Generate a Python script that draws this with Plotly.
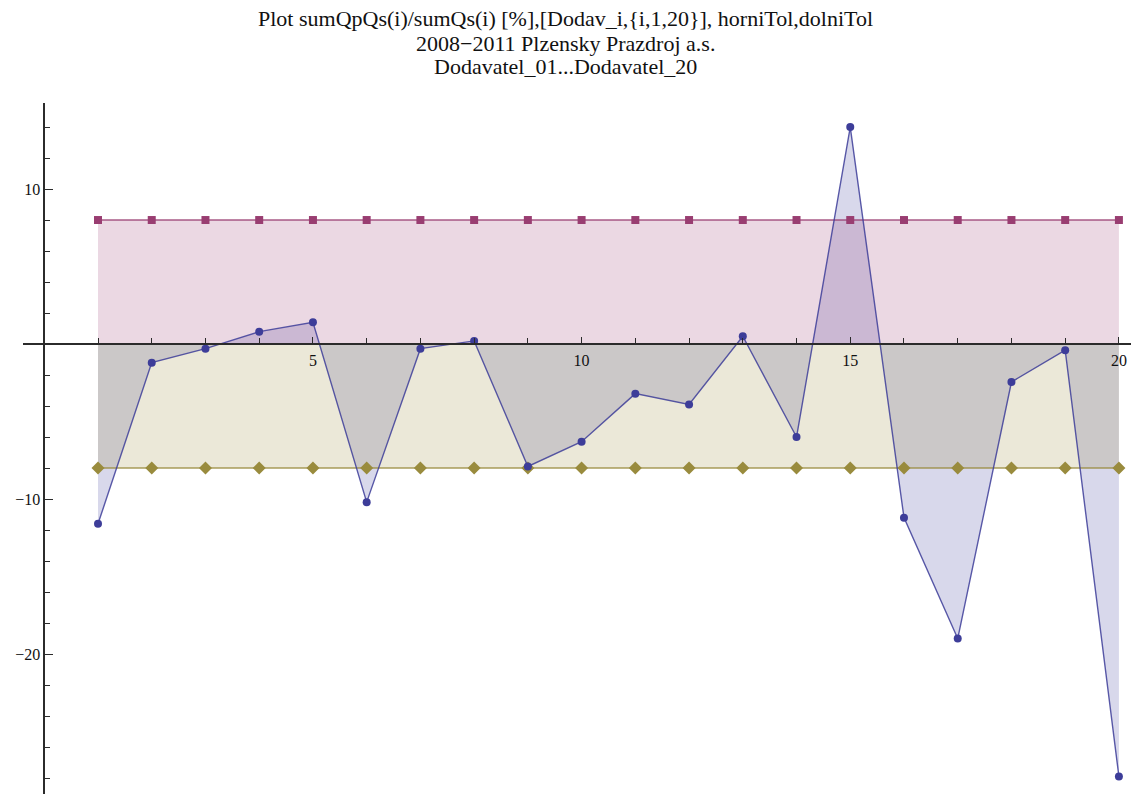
import plotly.graph_objects as go

# Supplier index and cumulative deviation sumQpQs(i)/sumQs(i) in percent
dodavatel = list(range(1, 21))
odchylka = [-11.6, -1.2, -0.3, 0.8, 1.4, -10.2, -0.3, 0.2, -7.9, -6.3,
            -3.2, -3.9, 0.5, -6.0, 14.0, -11.2, -19.0, -2.45, -0.4, -27.9]
horni_tol = [8] * 20
dolni_tol = [-8] * 20

x_tickvals = [5, 10, 15, 20]
y_tickvals = [-20, -10, 10]
y_ticktext = ["\u221220", "\u221210", "10"]

title_lines = [
    "Plot sumQpQs(i)/sumQs(i) [%],[Dodav_i,{i,1,20}], horniTol,dolniTol",
    "2008\u22122011 Plzensky Prazdroj a.s.",
    "Dodavatel_01...Dodavatel_20",
]

# Mathematica-style default series colours
c_data = (61, 61, 153)
c_horni = (153, 61, 113)
c_dolni = (153, 139, 61)


def rgba(c, a):
    return f"rgba({c[0]},{c[1]},{c[2]},{a})"


def rgb(c):
    return f"rgb({c[0]},{c[1]},{c[2]})"


fig = go.Figure()

# Fillings to the axis, drawn first so the lines sit on top
for ys, c in [(odchylka, c_data), (horni_tol, c_horni), (dolni_tol, c_dolni)]:
    fig.add_trace(go.Scatter(
        x=dodavatel, y=ys, mode="none", fill="tozeroy",
        fillcolor=rgba(c, 0.2), hoverinfo="skip", showlegend=False,
    ))

fig.add_trace(go.Scatter(
    x=dodavatel, y=horni_tol, mode="lines+markers",
    line=dict(color=rgba(c_horni, 0.85), width=1.6),
    marker=dict(symbol="square", size=8, color=rgb(c_horni)),
    showlegend=False, name="horniTol",
))
fig.add_trace(go.Scatter(
    x=dodavatel, y=dolni_tol, mode="lines+markers",
    line=dict(color=rgba(c_dolni, 0.85), width=1.6),
    marker=dict(symbol="diamond", size=10, color=rgb(c_dolni)),
    showlegend=False, name="dolniTol",
))
fig.add_trace(go.Scatter(
    x=dodavatel, y=odchylka, mode="lines+markers",
    line=dict(color=rgba(c_data, 0.85), width=1.4),
    marker=dict(symbol="circle", size=8, color=rgb(c_data)),
    showlegend=False, name="sumQpQs/sumQs",
))

W, H = 1131, 794
axis_col = "#2b2b2b"
tick_font = dict(family="Liberation Serif, Times New Roman, serif", size=16, color="#111")

fig.update_layout(
    width=W, height=H,
    margin=dict(l=0, r=0, t=0, b=0),
    paper_bgcolor="white", plot_bgcolor="white",
    xaxis=dict(
        domain=[23 / W, 1.0],
        range=[-0.396, 20.225],
        anchor="free", position=(H - 344) / H,
        showgrid=False, zeroline=False,
        showline=True, linecolor=axis_col, linewidth=1.5,
        tickmode="array", tickvals=x_tickvals,
        ticks="inside", ticklen=6, tickwidth=1.3, tickcolor=axis_col,
        minor=dict(tickmode="linear", tick0=0, dtick=1, ticks="inside",
                   ticklen=5, tickwidth=1.2, tickcolor=axis_col),
        tickfont=tick_font, ticklabelstandoff=2,
    ),
    yaxis=dict(
        domain=[0.0, (H - 103) / H],
        range=[-29.03, 15.55],
        anchor="free", position=44.3 / W,
        showgrid=False, zeroline=False,
        showline=True, linecolor=axis_col, linewidth=1.5,
        tickmode="array", tickvals=y_tickvals, ticktext=y_ticktext,
        ticks="inside", ticklen=8, tickwidth=1.3, tickcolor=axis_col,
        minor=dict(tickmode="linear", tick0=0, dtick=2, ticks="inside",
                   ticklen=5, tickwidth=1.2, tickcolor=axis_col),
        tickfont=tick_font,
    ),
)

for txt, ypx in zip(title_lines, [18, 43, 67]):
    fig.add_annotation(
        text=txt, xref="paper", yref="paper",
        x=0.5, y=1 - ypx / H, xanchor="center", yanchor="middle",
        showarrow=False,
        font=dict(family="Liberation Serif, Times New Roman, serif", size=22, color="#111"),
    )

fig.write_html("out.html")
